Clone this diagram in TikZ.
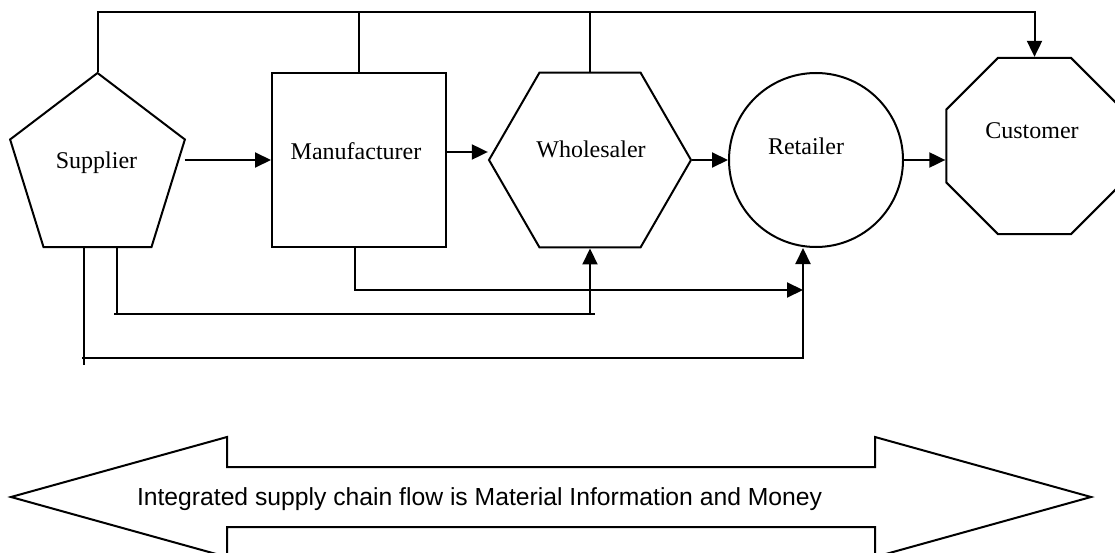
\documentclass[tikz,border=0pt]{standalone}
\usepackage{fontspec}
\setmainfont{Liberation Serif}
\newfontfamily\flowfont{Liberation Sans}
\usetikzlibrary{shapes.geometric,arrows.meta,calc}
\begin{document}
\begin{tikzpicture}[x=1pt,y=-1pt,line width=2pt,
  stage/.style={draw,inner sep=0pt},
  poly/.style={stage,regular polygon,regular polygon sides=#1},
  lbl/.style={font=\fontsize{24}{28}\selectfont,anchor=base,inner sep=0pt},
  tip/.style={-{Triangle[length=16pt,width=15pt]}}]
\useasboundingbox (0,0) rectangle (1115,553);

% chain members
\node[poly=5,minimum size=192.4pt,xscale=0.955] (sup) at (97.5,169.2) {};
\node[stage,minimum width=174pt,minimum height=174pt] (man) at (359,160) {};
\node[poly=6,minimum size=202pt] (whole) at (590,160) {};
\node[stage,circle,minimum size=174pt] (ret) at (816,160) {};
\node[poly=8,minimum size=190.8pt] (cust) at (1034.5,146) {};

\node[lbl] (sup-t) at (96.5,169) {Supplier};
\node[lbl] (man-t) at (356,160) {Manufacturer};
\node[lbl] (whole-t) at (591,158) {Wholesaler};
\node[lbl] (ret-t) at (806,155) {Retailer};
\node[lbl] (cust-t) at (1032,139) {Customer};

% levels of the routed lines
\coordinate (top) at (0,12);
\coordinate (hi) at (290,290);
\coordinate (mid) at (0,314);
\coordinate (low) at (0,358);
\coordinate (tick) at (0,365);

% forward flow
\draw[tip] ($(sup.east |- man.west)+(8,0)$) -- (man.west);
\draw[tip] ([yshift=8pt]man.east) -- ([yshift=8pt]man.east -| whole.west);
\draw[tip] (whole.east) -- (ret.west);
\draw[tip] (ret.east) -- (ret.east -| cust.west);

% direct line along the top
\draw[tip] (sup.north) -- (sup.north |- top) -| (cust.north);
\draw (man.north) -- (man.north |- top);
\draw (whole.north) -- (whole.north |- top);

% lines along the bottom
\coordinate (s1) at ([xshift=-13.5pt]sup.south);
\coordinate (s2) at ([xshift=19.5pt]sup.south);
\coordinate (r1) at ([xshift=-13pt]ret.south);
\draw (s1) -- (s1 |- tick);
\draw[tip] ($(s1 |- low)+(-2,0)$) -| (r1);
\draw (s2) -- (s2 |- mid);
\draw ($(s2 |- mid)+(-3,0)$) -- ($(whole.south |- mid)+(5,0)$);
\draw[tip] (whole.south |- mid) -- (whole.south);
\draw[tip] ([xshift=-4pt]man.south) |- (r1 |- hi);

% integrated flow arrow
\draw (11,497) coordinate (lt) -- (227,437) -- (227,467) -- (875,467) -- (875,437)
  -- (1091,497) coordinate (rt) -- (875,557) -- (875,527) -- (227,527) -- (227,557) -- cycle;
\node[anchor=base west,inner sep=0pt,font=\flowfont\fontsize{24.7}{28}\selectfont] (flow-t) at (136,505)
  {Integrated supply chain flow is Material Information and Money};
\end{tikzpicture}
\end{document}
